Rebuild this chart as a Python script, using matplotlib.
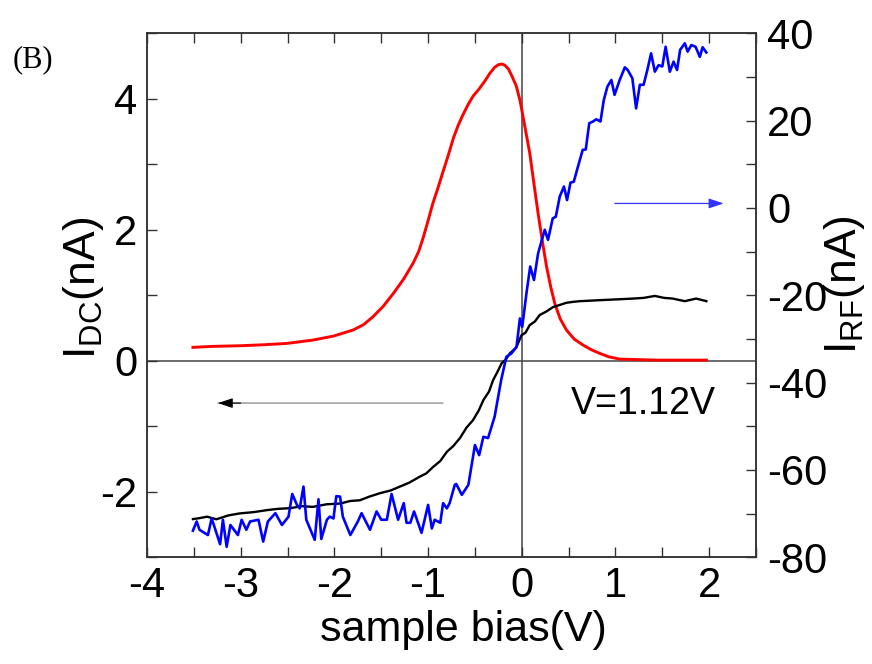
import matplotlib
matplotlib.use("Agg")
import matplotlib.pyplot as plt
from matplotlib.ticker import MultipleLocator
from matplotlib import font_manager

names = {f.name for f in font_manager.fontManager.ttflist}
NARROW = 'Liberation Sans Narrow' if 'Liberation Sans Narrow' in names else 'Liberation Sans'
IS_NARROW = NARROW == 'Liberation Sans Narrow'

plt.rcParams['axes.unicode_minus'] = False
plt.rcParams['mathtext.fontset'] = 'custom'
plt.rcParams['mathtext.rm'] = 'Liberation Sans'
plt.rcParams['mathtext.it'] = 'Liberation Sans'
plt.rcParams['font.family'] = ['Liberation Sans', 'DejaVu Sans']

# ---- data ----
x_red = [-3.51, -3.3, -3.0, -2.75, -2.51, -2.23, -2.01, -1.80, -1.69, -1.59, -1.48, -1.37,
         -1.26, -1.16, -1.10, -1.05, -1.00, -0.95, -0.89, -0.84, -0.78, -0.73, -0.68, -0.63,
         -0.57, -0.52, -0.45, -0.39, -0.34, -0.29, -0.25, -0.21, -0.18, -0.14, -0.11, -0.06,
         -0.02, 0.00, 0.04, 0.085, 0.13, 0.174, 0.22, 0.264, 0.31, 0.352, 0.41, 0.477, 0.56,
         0.654, 0.74, 0.832, 0.93, 1.045, 1.44, 1.97]
y_red = [0.205, 0.22, 0.23, 0.245, 0.265, 0.316, 0.377, 0.47, 0.55, 0.67, 0.83, 1.03,
         1.25, 1.49, 1.67, 1.89, 2.14, 2.40, 2.66, 2.89, 3.16, 3.40, 3.59, 3.75,
         3.92, 4.04, 4.16, 4.28, 4.39, 4.48, 4.52, 4.53, 4.51, 4.45, 4.36, 4.20,
         3.98, 3.83, 3.52, 3.17, 2.70, 2.25, 1.82, 1.44, 1.12, 0.876, 0.64, 0.469, 0.33,
         0.24, 0.17, 0.113, 0.06, 0.026, 0.01, 0.01]

x_dc = [-3.51, -3.43, -3.36, -3.26, -3.13, -3.01, -2.86, -2.72, -2.60, -2.47, -2.35, -2.23,
        -2.08, -1.94, -1.83, -1.73, -1.62, -1.51, -1.40, -1.30, -1.20, -1.09, -1.02,
        -0.946, -0.87, -0.80, -0.73, -0.66, -0.59, -0.52, -0.46, -0.41, -0.35, -0.306,
        -0.26, -0.216, -0.17, -0.128, -0.06, -0.003, 0.04, 0.085, 0.14, 0.192, 0.26,
        0.334, 0.40, 0.477, 0.55, 0.62, 0.76, 0.90, 1.05, 1.19, 1.30, 1.42, 1.52, 1.61,
        1.74, 1.86, 1.97]
y_dc = [-2.417, -2.40, -2.38, -2.42, -2.36, -2.33, -2.31, -2.28, -2.26, -2.25, -2.22, -2.23,
        -2.19, -2.18, -2.14, -2.13, -2.07, -2.02, -1.98, -1.92, -1.86, -1.77, -1.72,
        -1.62, -1.53, -1.39, -1.30, -1.18, -1.02, -0.905, -0.76, -0.60, -0.47, -0.295,
        -0.17, -0.04, 0.02, 0.113, 0.20, 0.39, 0.43, 0.545, 0.60, 0.70, 0.75,
        0.82, 0.85, 0.886, 0.90, 0.91, 0.92, 0.93, 0.94, 0.95, 0.96, 0.99, 0.96, 0.95,
        0.91, 0.95, 0.91]

x_rf = [-3.51, -3.47, -3.44, -3.35, -3.31, -3.22, -3.19, -3.15, -3.11, -3.03, -2.99, -2.94,
        -2.90, -2.81, -2.76, -2.71, -2.63, -2.56, -2.49, -2.45, -2.40, -2.37, -2.33, -2.30,
        -2.21, -2.17, -2.14, -2.08, -2.05, -2.01, -1.98, -1.94, -1.91, -1.83, -1.75, -1.71,
        -1.62, -1.55, -1.50, -1.44, -1.39, -1.32, -1.26, -1.23, -1.19, -1.15, -1.07, -1.00,
        -0.96, -0.93, -0.87, -0.84, -0.80, -0.77, -0.715, -0.70, -0.64, -0.57, -0.50, -0.455,
        -0.41, -0.36, -0.29, -0.22, -0.165, -0.11, -0.056, -0.02, 0.005, 0.05, 0.09, 0.13,
        0.174, 0.245, 0.28, 0.33, 0.363, 0.405, 0.45, 0.483, 0.52, 0.555, 0.60, 0.65,
        0.683, 0.72, 0.76, 0.795, 0.84, 0.875, 0.914, 0.956, 0.99, 1.045, 1.10, 1.13,
        1.18, 1.22, 1.26, 1.30, 1.34, 1.38, 1.42, 1.46, 1.50, 1.535, 1.58, 1.62,
        1.657, 1.69, 1.74, 1.77, 1.81, 1.855, 1.90, 1.93, 1.97]
y_rf = [-73.9, -71.8, -73.7, -74.9, -71.1, -77.0, -71.4, -77.6, -72.6, -74.9, -71.4, -73.7,
        -71.8, -71.4, -76.4, -71.8, -69.9, -72.6, -70.7, -65.5, -68.0, -68.8, -63.8, -71.4,
        -76.0, -66.7, -75.8, -71.4, -70.7, -71.1, -66.0, -66.1, -70.7, -74.9, -71.8, -69.9,
        -73.7, -69.5, -71.4, -71.4, -65.5, -71.4, -67.6, -72.1, -72.1, -69.5, -74.4, -68.0,
        -73.4, -71.4, -72.1, -67.6, -68.8, -67.6, -63.4, -63.2, -65.7, -63.4, -54.3, -56.6,
        -52.4, -52.7, -47.8, -39.4, -34.1, -33.3, -31.8, -25.3, -27.2, -19.5, -13.4, -16.5,
        -10.4, -5.0, -7.3, -2.4, -2.0, 2.6, 4.9, 1.8, 5.8, 6.0, 9.5, 13.3,
        13.4, 19.4, 19.8, 20.3, 19.8, 24.7, 27.8, 29.3, 25.9, 29.3, 32.2, 31.6,
        29.7, 22.8, 28.2, 28.2, 31.6, 35.4, 31.2, 32.7, 32.4, 36.9, 31.2, 33.5,
        31.6, 36.2, 37.7, 35.8, 37.3, 36.9, 34.6, 36.8, 35.6]

x_ticks = [-4, -3, -2, -1, 0, 1, 2]
ydc_ticks = [-2, 0, 2, 4]
yrf_ticks = [-80, -60, -40, -20, 0, 20, 40]

TICK_FS = 33 if IS_NARROW else 30
XLAB_FS = 34 if IS_NARROW else 31
ANN_FS = 30 if IS_NARROW else 27

# ---- figure ----
fig = plt.figure(figsize=(8.72, 6.64), dpi=100)
ax = fig.add_axes([0.1686, 0.1607, 0.6984, 0.7892])
ax2 = ax.twinx()

spine_c = '#333333'
for a in (ax, ax2):
    for s in a.spines.values():
        s.set_color(spine_c)
        s.set_linewidth(1.1)

ax.plot(x_red, y_red, color='#ff0000', lw=2.1, zorder=3)
ax.plot(x_dc, y_dc, color='black', lw=1.7, zorder=3)
ax2.plot(x_rf, y_rf, color='#0000ff', lw=1.9, zorder=3)

ax.axhline(0, color='#444444', lw=1.1, zorder=1)
ax.axvline(0, color='#444444', lw=1.1, zorder=1)

ax.set_xlim(-4, 2.5)
ax.set_ylim(-3, 5)
ax2.set_ylim(-80, 40)

ax.set_xticks(x_ticks)
ax.xaxis.set_minor_locator(MultipleLocator(0.5))
ax.set_yticks(ydc_ticks)
ax.yaxis.set_minor_locator(MultipleLocator(1))
ax2.set_yticks(yrf_ticks)
ax2.yaxis.set_minor_locator(MultipleLocator(10))

ax.tick_params(axis='x', which='both', direction='in', top=True, bottom=True,
               length=7, width=1, color=spine_c, pad=6)
ax.tick_params(axis='y', which='both', direction='in', left=True, right=False,
               length=7, width=1, color=spine_c, pad=7)
ax2.tick_params(axis='y', which='both', direction='in', right=True, left=False,
                length=7, width=1, color=spine_c, pad=8)
for lab in ax.get_xticklabels() + ax.get_yticklabels() + ax2.get_yticklabels():
    lab.set_fontfamily(NARROW)
    lab.set_fontsize(TICK_FS)

ax.set_xlabel('sample bias(V)', fontsize=XLAB_FS, family=NARROW)
ax.xaxis.set_label_coords(0.519, -0.1)
ax.set_ylabel(r'I$_{\rm DC}$(nA)', fontsize=32, va='center')
ax.yaxis.set_label_coords(-0.105, 0.514)
ax2.set_ylabel(r'I$_{\rm RF}$(nA)', fontsize=32, va='center', rotation=90)
ax2.yaxis.set_label_coords(1.146, 0.52)

# arrows
ax.annotate('', xy=(-3.243, -0.646), xytext=(-0.843, -0.646),
            arrowprops=dict(arrowstyle='-', color='#aaaaaa', lw=1.3, shrinkA=0, shrinkB=0))
ax.annotate('', xy=(-3.243, -0.646), xytext=(-3.0, -0.646),
            arrowprops=dict(arrowstyle='-|>,head_length=0.9,head_width=0.3', color='black',
                            lw=0.8, shrinkA=0, shrinkB=0))
ax2.annotate('', xy=(2.155, 1.03), xytext=(0.992, 1.03),
             arrowprops=dict(arrowstyle='-|>,head_length=0.9,head_width=0.3', color='#3333ff',
                             lw=0.9, shrinkA=0, shrinkB=0))

ax.text(0.528, -0.661, 'V=1.12V', fontsize=ANN_FS, family=NARROW, ha='left', va='center')
fig.text(0.015, 0.9096, '(B)', fontsize=22, family='Liberation Serif', ha='left', va='center')

fig.savefig('out.png', dpi=100)
